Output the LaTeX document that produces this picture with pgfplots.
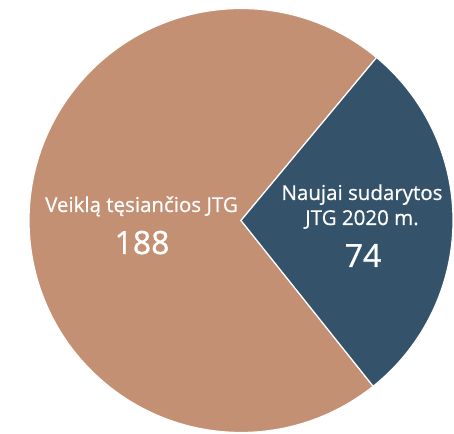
\documentclass[border=0pt]{standalone}
\usepackage{fontspec}
\setmainfont{Open Sans}
\newfontfamily\semib[FakeBold=0.6]{Open Sans}
\newfontfamily\numb[FakeBold=0.9]{Open Sans}
\usepackage{pgfplots}
\pgfplotsset{compat=1.18}
\definecolor{tanc}{HTML}{C49073}
\definecolor{bluec}{HTML}{34536B}
\begin{document}
\begin{tikzpicture}
\begin{axis}[
  scale only axis, width=454pt, height=433pt,
  xmin=-241, xmax=213, ymin=-212.5, ymax=220.5,
  hide axis, clip=false]
\pgfmathsetmacro{\va}{188}
\pgfmathsetmacro{\vb}{74}
\pgfmathsetmacro{\spanb}{\vb/(\va+\vb)*360}
\pgfmathsetmacro{\sb}{-0.6-\spanb/2}
\pgfmathsetmacro{\eb}{-0.6+\spanb/2}
\pgfmathsetmacro{\ea}{\sb+360}
\coordinate (ll) at (axis cs:-241,-212.5);
\coordinate (ur) at (axis cs:213,220.5);
\fill[tanc, draw=white, line width=1.2pt] (axis cs:0,0) -- ++(\eb:212pt) arc[start angle=\eb, end angle=\ea, radius=212pt] -- cycle;
\fill[bluec, draw=white, line width=1.2pt] (axis cs:0,0) -- ++(\sb:212pt) arc[start angle=\sb, end angle=\eb, radius=212pt] -- cycle;
\node[white, anchor=base, inner sep=0pt, font=\semib\fontsize{20.5}{24}\selectfont] at (axis cs:-99.5,8.5) {Veiklą tęsiančios JTG};
\node[white, anchor=base, inner sep=0pt, font=\numb\fontsize{32}{38}\selectfont] at (axis cs:-99,-33.5) {188};
\node[white, anchor=base, inner sep=0pt, font=\semib\fontsize{20.5}{24}\selectfont] at (axis cs:121,20.5) {Naujai sudarytos};
\node[white, anchor=base, inner sep=0pt, font=\semib\fontsize{20.5}{24}\selectfont] at (axis cs:121,-4.5) {JTG 2020 m.};
\node[white, anchor=base, inner sep=0pt, font=\numb\fontsize{32}{38}\selectfont] at (axis cs:122,-46.5) {74};
\end{axis}
\pgfresetboundingbox
\path[use as bounding box] (ll) rectangle (ur);
\end{tikzpicture}
\end{document}
